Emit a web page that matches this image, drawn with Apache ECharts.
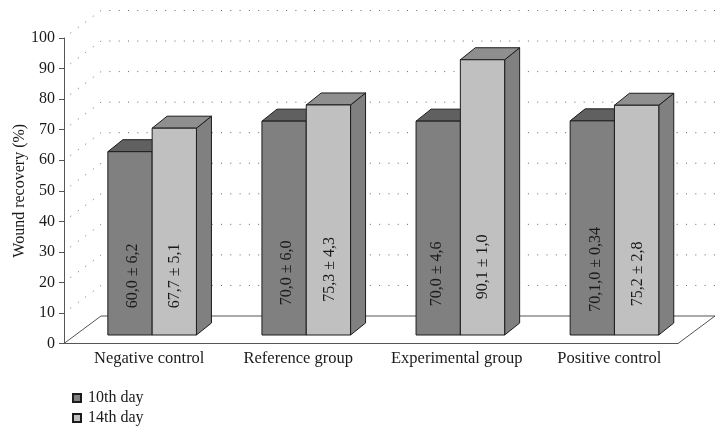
<!DOCTYPE html>
<html>
<head>
<meta charset="utf-8">
<title>Wound recovery</title>
<style>
html,body{margin:0;padding:0;background:#fff;}
#chart{width:726px;height:436px;}
</style>
<script src="https://cdn.jsdelivr.net/npm/echarts@6/dist/echarts.min.js"></script>
</head>
<body>
<div id="chart"></div>
<script>
var categories = ['Negative control', 'Reference group', 'Experimental group', 'Positive control'];
var day10 = [60, 70, 70, 70.1];
var day14 = [67.7, 75.3, 90.1, 75.2];
var day10Labels = ['60,0 ± 6,2', '70,0 ± 6,0', '70,0 ± 4,6', '70,1,0 ± 0,34'];
var day14Labels = ['67,7 ± 5,1', '75,3 ± 4,3', '90,1 ± 1,0', '75,2 ± 2,8'];
var gridTicks = [10, 20, 30, 40, 50, 60, 70, 80, 90, 100];

// labels in the original were placed by hand, these are the small offsets
var categoryShift = [8.5, 4, 9, 8];
var day10Nudge = [[2.7, 2], [2.5, -1], [-1.3, 0], [3, -4.5]];
var day14Nudge = [[0, 2], [1, -4.5], [0.7, -7], [1, 0]];

var font = '"Liberation Serif", serif';
var chart = echarts.init(document.getElementById('chart'));

// the fake 3d box: floor depth and bar depth in pixels
var floorDx = 37, floorDy = -27.5;
var barDx = 15, barDy = -12;
var barFloorDx = 11.4, barFloorDy = -8.5;
var barW = 44.3;

function poly(points, fill, stroke, width) {
	return {
		type: 'polygon',
		shape: { points: points },
		style: { fill: fill, stroke: stroke, lineWidth: width || 1 }
	};
}

function barRender(labels, nudge, side, front, top, sideColor) {
	return function (params, api) {
		var i = api.value(0);
		var p = api.coord([i, api.value(1)]);
		var base = api.coord([i, 0]);
		var mid = api.coord([i, 20]);
		var x0 = p[0] + barFloorDx + i * 0.6 + (side < 0 ? -barW : 0);
		var x1 = x0 + barW;
		var y0 = p[1] + barFloorDy;
		var y1 = base[1] + barFloorDy;
		var edge = '#1c1c1c';
		return {
			type: 'group',
			children: [
				poly([[x1, y0], [x1 + barDx, y0 + barDy], [x1 + barDx, y1 + barDy], [x1, y1]], sideColor, edge),
				poly([[x0, y0], [x0 + barDx, y0 + barDy], [x1 + barDx, y0 + barDy], [x1, y0]], top, edge),
				poly([[x0, y0], [x1, y0], [x1, y1], [x0, y1]], front, edge),
				{
					type: 'text',
					x: (x0 + x1) / 2 + nudge[i][0],
					y: mid[1] + barFloorDy + nudge[i][1],
					rotation: Math.PI / 2,
					style: {
						text: labels[i],
						font: '16px ' + font,
						fill: '#1a1a1a',
						align: 'center',
						verticalAlign: 'middle'
					}
				}
			]
		};
	};
}

chart.setOption({
	animation: false,
	backgroundColor: '#fff',
	legend: {
		orient: 'vertical',
		left: 67,
		top: 385,
		itemWidth: 8,
		itemHeight: 8,
		itemGap: 4,
		icon: 'rect',
		textStyle: { fontFamily: font, fontSize: 16, color: '#1a1a1a', padding: [0, 0, 0, 2] },
		data: ['10th day', '14th day']
	},
	grid: { left: 64, right: 48, top: 38, bottom: 92.5, outerBoundsMode: 'none' },
	xAxis: {
		type: 'category',
		data: categories.map(function (c, i) {
			return { value: c, textStyle: { padding: [0, 0, 0, categoryShift[i] * 2] } };
		}),
		axisLine: { lineStyle: { color: '#666' } },
		axisTick: { show: false },
		axisLabel: { fontFamily: font, fontSize: 16.5, color: '#1a1a1a', margin: 7, interval: 0 }
	},
	yAxis: {
		type: 'value',
		min: 0,
		max: 100,
		interval: 10,
		name: 'Wound recovery (%)',
		nameLocation: 'middle',
		nameGap: 36,
		nameMoveOverlap: false,
		nameTextStyle: { fontFamily: font, fontSize: 16, color: '#1a1a1a' },
		axisLine: { show: true, lineStyle: { color: '#555' } },
		axisTick: { show: true, length: 5, lineStyle: { color: '#555' } },
		axisLabel: { fontFamily: font, fontSize: 16, color: '#1a1a1a', margin: 9 },
		splitLine: { show: false }
	},
	series: [
		{
			// floor
			type: 'custom',
			silent: true,
			z: 1,
			data: [[0]],
			renderItem: function (params, api) {
				var a = api.coord([0, 0]);
				var left = params.coordSys.x, right = left + params.coordSys.width;
				var y = a[1];
				return poly([[left, y], [right, y], [right + floorDx, y + floorDy], [left + floorDx, y + floorDy]], '#fff', '#555');
			}
		},
		{
			// dotted walls
			type: 'custom',
			silent: true,
			z: 2,
			data: gridTicks.map(function (t) { return [t]; }),
			renderItem: function (params, api) {
				var y = api.coord([0, api.value(0)])[1];
				var left = params.coordSys.x, right = left + params.coordSys.width;
				return {
					type: 'polyline',
					shape: { points: [[left, y], [left + floorDx, y + floorDy], [right + floorDx, y + floorDy]] },
					style: { fill: 'none', stroke: '#666', lineWidth: 1, lineDash: [1, 8.3], lineDashOffset: -8 }
				};
			}
		},
		{
			name: '10th day',
			type: 'custom',
			z: 3,
			itemStyle: { color: '#808080', borderColor: '#1c1c1c', borderWidth: 1 },
			encode: { x: 0, y: 1 },
			data: day10.map(function (v, i) { return [i, v]; }),
			renderItem: barRender(day10Labels, day10Nudge, -1, '#808080', '#606060', '#808080')
		},
		{
			name: '14th day',
			type: 'custom',
			z: 4,
			itemStyle: { color: '#c0c0c0', borderColor: '#1c1c1c', borderWidth: 1 },
			encode: { x: 0, y: 1 },
			data: day14.map(function (v, i) { return [i, v]; }),
			renderItem: barRender(day14Labels, day14Nudge, 1, '#c0c0c0', '#8f8f8f', '#808080')
		}
	]
});
</script>
</body>
</html>
